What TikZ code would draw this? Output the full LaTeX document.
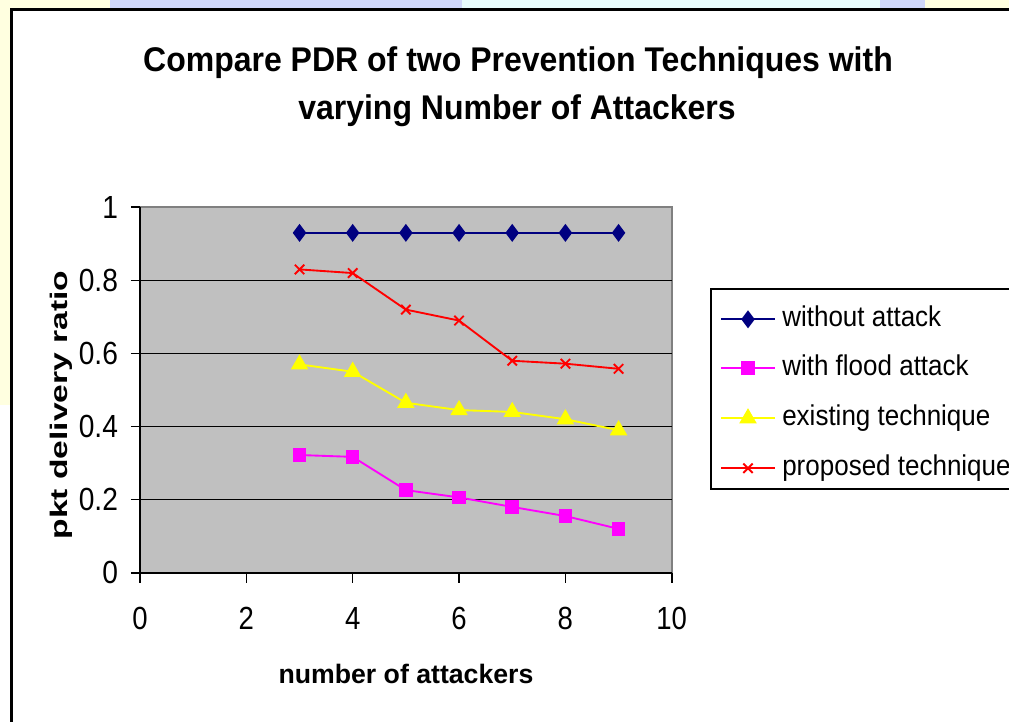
\documentclass[tikz,border=0pt]{standalone}
\usepackage{fontspec}
\setmainfont{Liberation Sans}
\usetikzlibrary{plotmarks}

\definecolor{plotgray}{RGB}{192,192,192}
\definecolor{edgegray}{RGB}{128,128,128}
\definecolor{navy}{RGB}{0,0,128}
\definecolor{floodpink}{RGB}{255,0,255}
\definecolor{existyellow}{RGB}{255,255,0}
\definecolor{propred}{RGB}{255,0,0}
\definecolor{slideyellow}{RGB}{255,255,224}
\definecolor{slidelilac}{RGB}{208,216,250}
\definecolor{slidecyan}{RGB}{232,252,252}

\begin{document}
\begin{tikzpicture}[x=0.75pt,y=0.75pt,
  noattack/.style={navy,line width=1.4pt,mark=diamond*,mark size=5.6pt,mark options={fill=navy}},
  flood/.style={floodpink,line width=1.4pt,mark=square*,mark size=4.4pt,mark options={fill=floodpink}},
  existing/.style={existyellow,line width=1.4pt,mark=triangle*,mark size=6.2pt,mark options={fill=existyellow}},
  proposed/.style={propred,line width=1.4pt,mark=x,mark size=5pt},
  titletext/.style={font=\bfseries\fontsize{24}{28}\selectfont,inner sep=0pt,anchor=base},
  ticklbl/.style={font=\fontsize{24}{28}\selectfont,inner sep=0pt},
  leglbl/.style={font=\fontsize{19.5}{23}\selectfont,inner sep=0pt,anchor=base west},
  axlbl/.style={font=\bfseries\fontsize{20}{24}\selectfont,inner sep=0pt}]
  \useasboundingbox (0,0) rectangle (1009,721);
  \fill[white] (0,0) rectangle (1009,721);
  % slide background round the chart
  \fill[slideyellow] (0,316) rectangle (10,721);
  \fill[slideyellow] (0,713) rectangle (110,721);
  \fill[slidelilac] (110,713) rectangle (462,721);
  \fill[slidecyan] (462,713) rectangle (880,721);
  \fill[slidelilac] (880,713) rectangle (925,721);
  \fill[slideyellow] (925,713) rectangle (1009,721);
  \draw[line width=2pt] (11.3,-5) |- (1015,711.6);

  \node[titletext] (title1) at (518,649.3) {\scalebox{1}[1.07]{Compare PDR of two Prevention Techniques with}};
  \node[titletext] (title2) at (517,601.7) {\scalebox{1}[1.07]{varying Number of Attackers}};

  \begin{scope}[shift={(140,148.3)},x=39.88pt,y=274.05pt]
    \fill[plotgray] (0,0) rectangle (10,1);
    \draw[edgegray,line width=1.2pt] (0,1) -| (10,0);
    \foreach \y in {0.2,0.4,0.6,0.8}
      \draw[line width=1.2pt] (0,\y) -- (10,\y);
    \draw[line width=1.3pt] (0,1) -- (0,0) -- (10,0);
    \foreach \y/\t in {0/0,0.2/0.2,0.4/0.4,0.6/0.6,0.8/0.8,1/1}{
      \draw[line width=1.2pt] (-0.17,\y) -- (0,\y);
      \node[ticklbl,anchor=east] (yt\t) at (-0.41,\y) {\scalebox{0.88}[1]{\t}};
    }
    \foreach \x in {0,2,...,10}{
      \draw[line width=1.2pt] (\x,0) -- (\x,-0.027);
      \node[ticklbl] (xt\x) at (\x,-0.125) {\scalebox{0.86}[1]{\x}};
    }
    % series
    \draw[noattack] plot coordinates {(3,0.93) (4,0.93) (5,0.93) (6,0.93) (7,0.93) (8,0.93) (9,0.93)};
    \draw[flood] plot coordinates {(3,0.322) (4,0.317) (5,0.226) (6,0.206) (7,0.18) (8,0.155) (9,0.12)};
    \draw[existing] plot coordinates {(3,0.57) (4,0.55) (5,0.465) (6,0.445) (7,0.44) (8,0.42) (9,0.39)};
    \draw[proposed] plot coordinates {(3,0.83) (4,0.82) (5,0.72) (6,0.69) (7,0.58) (8,0.572) (9,0.558)};
  \end{scope}

  \node[axlbl,anchor=base] (xlabel) at (406,37.7) {number of attackers};
  \node[axlbl,font=\bfseries\fontsize{18}{22}\selectfont,rotate=90] (ylabel) at (61,316) {\scalebox{1.4}[1]{pkt delivery ratio}};

  % legend
  \draw[line width=1.3pt] (1015,431.7) -- (711,431.7) -- (711,231.7) -- (1015,231.7);
  \draw[noattack] (721,401.7) -- (775,401.7); \path[noattack] plot coordinates {(748,401.7)};
  \draw[flood] (721,352.7) -- (775,352.7); \path[flood] plot coordinates {(748,352.7)};
  \draw[existing] (721,302.7) -- (775,302.7); \path[existing] plot coordinates {(748,302.7)};
  \draw[proposed] (721,252.7) -- (775,252.7); \path[proposed] plot coordinates {(748,252.7)};
  \node[leglbl] (leg1) at (782,394.3) {\scalebox{1}[1.1]{without attack}};
  \node[leglbl] (leg2) at (782,345.3) {\scalebox{1}[1.1]{with flood attack}};
  \node[leglbl] (leg3) at (782,295.3) {\scalebox{1}[1.1]{existing technique}};
  \node[leglbl] (leg4) at (782,245.3) {\scalebox{1}[1.1]{proposed technique}};
\end{tikzpicture}
\end{document}
